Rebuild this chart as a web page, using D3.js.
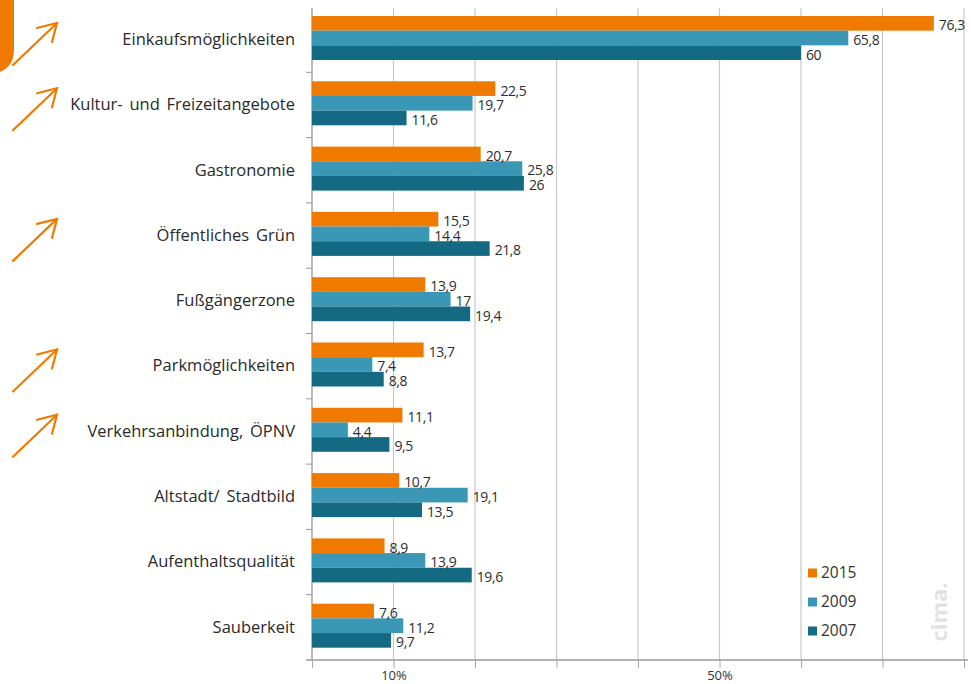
<!DOCTYPE html>
<html>
<head>
<meta charset="utf-8">
<script src="https://cdn.jsdelivr.net/npm/d3@7"></script>
<style>
  body { margin: 0; background: #fff; }
  svg { display: block; }
</style>
</head>
<body>
<svg id="chart" width="971" height="684"></svg>
<script>
const categories = [
  "Einkaufsmöglichkeiten",
  "Kultur- und Freizeitangebote",
  "Gastronomie",
  "Öffentliches Grün",
  "Fußgängerzone",
  "Parkmöglichkeiten",
  "Verkehrsanbindung, ÖPNV",
  "Altstadt/ Stadtbild",
  "Aufenthaltsqualität",
  "Sauberkeit"
];
const years = ["2015", "2009", "2007"];
const values2015 = [76.3, 22.5, 20.7, 15.5, 13.9, 13.7, 11.1, 10.7, 8.9, 7.6];
const values2009 = [65.8, 19.7, 25.8, 14.4, 17, 7.4, 4.4, 19.1, 13.9, 11.2];
const values2007 = [60, 11.6, 26, 21.8, 19.4, 8.8, 9.5, 13.5, 19.6, 9.7];
const xTicks = [0, 10, 20, 30, 40, 50, 60, 70, 80];
const xTickLabels = ["", "10%", "", "", "", "50%", "", "", ""];
// Kategorien mit Pfeil (Verbesserung)
const arrowRows = ["Einkaufsmöglichkeiten", "Kultur- und Freizeitangebote", "Öffentliches Grün", "Parkmöglichkeiten", "Verkehrsanbindung, ÖPNV"];

const colors = { "2015": "#f07a00", "2009": "#3a97b6", "2007": "#156a83" };
const series = { "2015": values2015, "2009": values2009, "2007": values2007 };

const svg = d3.select("#chart");
const margin = { top: 7, right: 7, bottom: 24, left: 312 };
const width = 971, height = 684;
const plotBottom = height - margin.bottom;

const x = d3.scaleLinear().domain([0, 80]).range([margin.left, margin.left + 652]);
const y = d3.scaleBand().domain(categories).range([margin.top, plotBottom]);
const yInner = d3.scaleBand().domain(years).range([9, 53]);

const font = "'Open Sans', sans-serif";

// Gitterlinien
svg.append("g")
  .selectAll("line")
  .data(xTicks.slice(1))
  .join("line")
  .attr("x1", d => x(d)).attr("x2", d => x(d))
  .attr("y1", 8).attr("y2", plotBottom)
  .attr("stroke", "#c9c9c9").attr("stroke-width", 1.2);

// x-Achse
const xAxis = d3.axisBottom(x)
  .tickValues(xTicks)
  .tickSize(8)
  .tickPadding(3)
  .tickFormat((d, i) => xTickLabels[i]);
const gx = svg.append("g")
  .attr("transform", `translate(0,${plotBottom})`)
  .call(xAxis);
gx.select(".domain").attr("stroke", "#999").attr("stroke-width", 1.3).attr("d", `M${x(0) - 6},0H${x(80) + 4}`);
gx.selectAll(".tick line").attr("stroke", "#aaa");
gx.selectAll(".tick text")
  .attr("font-family", font)
  .attr("font-size", 13)
  .attr("fill", "#333");

// y-Achse
const yAxis = d3.axisLeft(y).tickSize(0).tickPadding(17);
const gy = svg.append("g")
  .attr("transform", `translate(${margin.left},0)`)
  .call(yAxis);
gy.select(".domain").attr("stroke", "#999").attr("stroke-width", 1.3).attr("d", `M0,8V${plotBottom}`);
gy.selectAll(".tick text")
  .attr("font-family", font)
  .attr("font-size", 16.5)
  .attr("font-weight", 500)
  .attr("word-spacing", 2.5)
  .attr("fill", "#2a2a2a");

// Kategorie-Trennstriche
svg.append("g")
  .selectAll("line")
  .data(categories.slice(1))
  .join("line")
  .attr("x1", margin.left - 6).attr("x2", margin.left)
  .attr("y1", d => y(d)).attr("y2", d => y(d))
  .attr("stroke", "#999");

// Balken
const groups = svg.append("g")
  .selectAll("g")
  .data(categories)
  .join("g")
  .attr("transform", d => `translate(0,${y(d)})`);

groups.selectAll("rect")
  .data((d, i) => years.map(yr => ({ year: yr, value: series[yr][i] })))
  .join("rect")
  .attr("x", x(0))
  .attr("y", d => yInner(d.year))
  .attr("width", d => x(d.value) - x(0))
  .attr("height", yInner.bandwidth())
  .attr("fill", d => colors[d.year]);

groups.selectAll("text")
  .data((d, i) => years.map(yr => ({ year: yr, value: series[yr][i] })))
  .join("text")
  .attr("x", d => x(d.value) + 5)
  .attr("y", d => yInner(d.year) + yInner.bandwidth() / 2 + 2)
  .attr("dy", "0.35em")
  .attr("font-family", font)
  .attr("font-size", 14)
  .attr("letter-spacing", -0.4)
  .attr("fill", "#2e2e2e")
  .text(d => String(d.value).replace(".", ","));

// Legende
const legend = svg.append("g").attr("transform", "translate(808,573)");
legend.selectAll("rect")
  .data(years)
  .join("rect")
  .attr("x", 0).attr("y", (d, i) => i * 29 - 4.5)
  .attr("width", 9).attr("height", 9)
  .attr("fill", d => colors[d]);
legend.selectAll("text")
  .data(years)
  .join("text")
  .attr("x", 13).attr("y", (d, i) => i * 29)
  .attr("dy", "0.35em")
  .attr("font-family", font)
  .attr("font-size", 15.5)
  .attr("fill", "#333")
  .text(d => d);

// Wasserzeichen
svg.append("text")
  .attr("transform", "translate(947,612) rotate(-90)")
  .attr("text-anchor", "middle")
  .attr("font-family", font)
  .attr("font-weight", "bold")
  .attr("font-size", 22)
  .attr("fill", "#e2e2e2")
  .text("cima.");

// oranges Element links oben
svg.append("path")
  .attr("d", "M0,0H14V50Q14,66 0,72Z")
  .attr("fill", "#f07a00");

// Pfeile
const arrows = svg.append("g")
  .attr("stroke", "#f07a00")
  .attr("stroke-width", 2.2)
  .attr("fill", "none")
  .attr("stroke-linecap", "round");
arrows.selectAll("g")
  .data(arrowRows)
  .join("g")
  .attr("transform", d => `translate(0,${y(d)})`)
  .each(function () {
    const g = d3.select(this);
    g.append("line").attr("x1", 13).attr("y1", 58).attr("x2", 57).attr("y2", 16);
    g.append("path").attr("d", "M37,21L57,16L52,35");
  });
</script>
</body>
</html>
